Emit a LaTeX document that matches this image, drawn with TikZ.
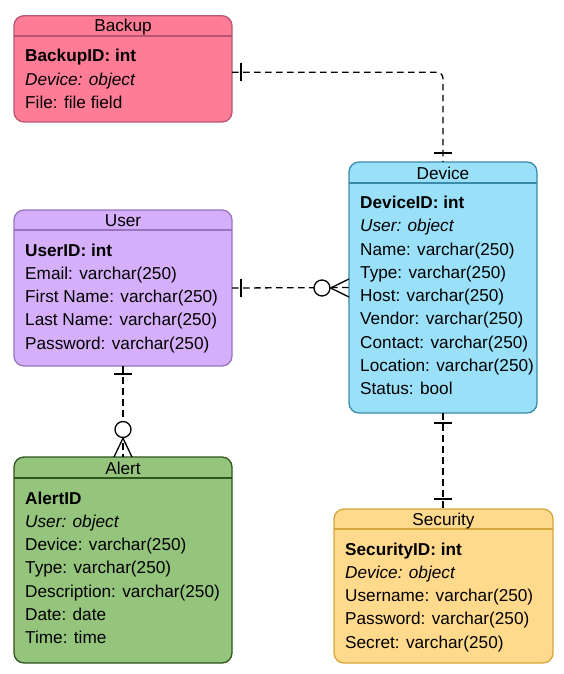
\documentclass[tikz,border=0pt]{standalone}
\usepackage{fontspec}
\setmainfont{Liberation Sans}
\definecolor{bkF}{RGB}{255,124,150}
\definecolor{bkD}{RGB}{184,86,112}
\definecolor{usF}{RGB}{213,175,250}
\definecolor{usD}{RGB}{152,116,190}
\definecolor{dvF}{RGB}{153,224,248}
\definecolor{dvD}{RGB}{58,138,170}
\definecolor{alF}{RGB}{149,196,125}
\definecolor{alD}{RGB}{45,85,28}
\definecolor{scF}{RGB}{255,217,140}
\definecolor{scD}{RGB}{214,166,60}
\newcommand{\erfont}{\fontsize{17.2}{20}\selectfont}
\tikzset{
  ent/.style={rounded corners=10pt, line width=1.3pt, anchor=north west, inner sep=0pt, outer sep=0pt},
  ttl/.style={anchor=base, inner sep=0pt, font=\erfont},
  fld/.style={anchor=base west, inner sep=0pt, font=\erfont},
  rel/.style={line width=1.3pt, dash pattern=on 6.5pt off 4.5pt},
  tk/.style={line width=1.3pt},
  ring/.style={circle, draw, fill=white, line width=1.3pt, minimum size=16pt, inner sep=0pt},
}
\begin{document}
\begin{tikzpicture}[x=1pt,y=-1pt]
\useasboundingbox (0,0) rectangle (564,674);
% Backup
\node[ent, draw=bkD, fill=bkF, minimum width=218pt, minimum height=106.3pt] (backup) at (14,15.7) {};
\draw[bkD, line width=1.3pt] (14,36) -- (232,36);
\node[ttl] (backupT) at (123,32) {Backup};
\node[fld, font=\erfont\bfseries] (backup1) at (25,62) {BackupID: int};
\node[fld, font=\erfont\itshape] (backup2) at (25,85.25) {Device: object};
\node[fld] (backup3) at (25,108.5) {File: file field};
% User
\node[ent, draw=usD, fill=usF, minimum width=218pt, minimum height=156pt] (user) at (14,210) {};
\draw[usD, line width=1.3pt] (14,230) -- (232,230);
\node[ttl] (userT) at (123,226) {User};
\node[fld, font=\erfont\bfseries] (user1) at (25,256) {UserID: int};
\node[fld] (user2) at (25,279.25) {Email: varchar(250)};
\node[fld] (user3) at (25,302.5) {First Name: varchar(250)};
\node[fld] (user4) at (25,325.75) {Last Name: varchar(250)};
\node[fld] (user5) at (25,349) {Password: varchar(250)};
% Device
\node[ent, draw=dvD, fill=dvF, minimum width=188pt, minimum height=251pt] (device) at (349,162) {};
\draw[dvD, line width=1.3pt] (349,183) -- (537,183);
\node[ttl] (deviceT) at (443,179) {Device};
\node[fld, font=\erfont\bfseries] (device1) at (360,208.5) {DeviceID: int};
\node[fld, font=\erfont\itshape] (device2) at (360,231.75) {User: object};
\node[fld] (device3) at (360,255) {Name: varchar(250)};
\node[fld] (device4) at (360,278.25) {Type: varchar(250)};
\node[fld] (device5) at (360,301.5) {Host: varchar(250)};
\node[fld] (device6) at (360,324.75) {Vendor: varchar(250)};
\node[fld] (device7) at (360,348) {Contact: varchar(250)};
\node[fld] (device8) at (360,371.25) {Location: varchar(250)};
\node[fld] (device9) at (360,394.5) {Status: bool};
% Alert
\node[ent, draw=alD, fill=alF, minimum width=218pt, minimum height=206pt] (alert) at (14,457) {};
\draw[alD, line width=1.3pt] (14,478) -- (232,478);
\node[ttl] (alertT) at (123,474) {Alert};
\node[fld, font=\erfont\bfseries] (alert1) at (25,504) {AlertID};
\node[fld, font=\erfont\itshape] (alert2) at (25,527.25) {User: object};
\node[fld] (alert3) at (25,550.5) {Device: varchar(250)};
\node[fld] (alert4) at (25,573.75) {Type: varchar(250)};
\node[fld] (alert5) at (25,597) {Description: varchar(250)};
\node[fld] (alert6) at (25,620.25) {Date: date};
\node[fld] (alert7) at (25,643.5) {Time: time};
% Security
\node[ent, draw=scD, fill=scF, minimum width=219pt, minimum height=154pt] (security) at (334,509) {};
\draw[scD, line width=1.3pt] (334,529) -- (553,529);
\node[ttl] (securityT) at (443.5,525) {Security};
\node[fld, font=\erfont\bfseries] (security1) at (345,555) {SecurityID: int};
\node[fld, font=\erfont\itshape] (security2) at (345,578.25) {Device: object};
\node[fld] (security3) at (345,601.5) {Username: varchar(250)};
\node[fld] (security4) at (345,624.75) {Password: varchar(250)};
\node[fld] (security5) at (345,648) {Secret: varchar(250)};
% Backup -- Device
\draw[rel, rounded corners=6pt] ([yshift=-3.5pt]backup.east) -| (device.north);
\draw[tk] (241,63) -- (241,81);
\draw[tk] (434,153) -- (452,153);
% User -- Device
\draw[rel] (user.east) -- (device.west);
\draw[tk] (241,279) -- (241,297);
\node[ring] (ringUD) at (322,288) {};
\draw[tk] (ringUD.east) -- (device.west |- 0,279);
\draw[tk] (ringUD.east) -- (device.west |- 0,297);
% User -- Alert
\draw[rel] (user.south) -- (alert.north);
\draw[tk] (114,374) -- (132,374);
\node[ring] (ringUA) at (123,429.5) {};
\draw[tk] (ringUA.south) -- (alert.north -| 114,0);
\draw[tk] (ringUA.south) -- (alert.north -| 132,0);
% Device -- Security
\draw[rel] (device.south) -- (security.north -| device.south);
\draw[tk] (434,423) -- (452,423);
\draw[tk] (434,499) -- (452,499);
\end{tikzpicture}
\end{document}
